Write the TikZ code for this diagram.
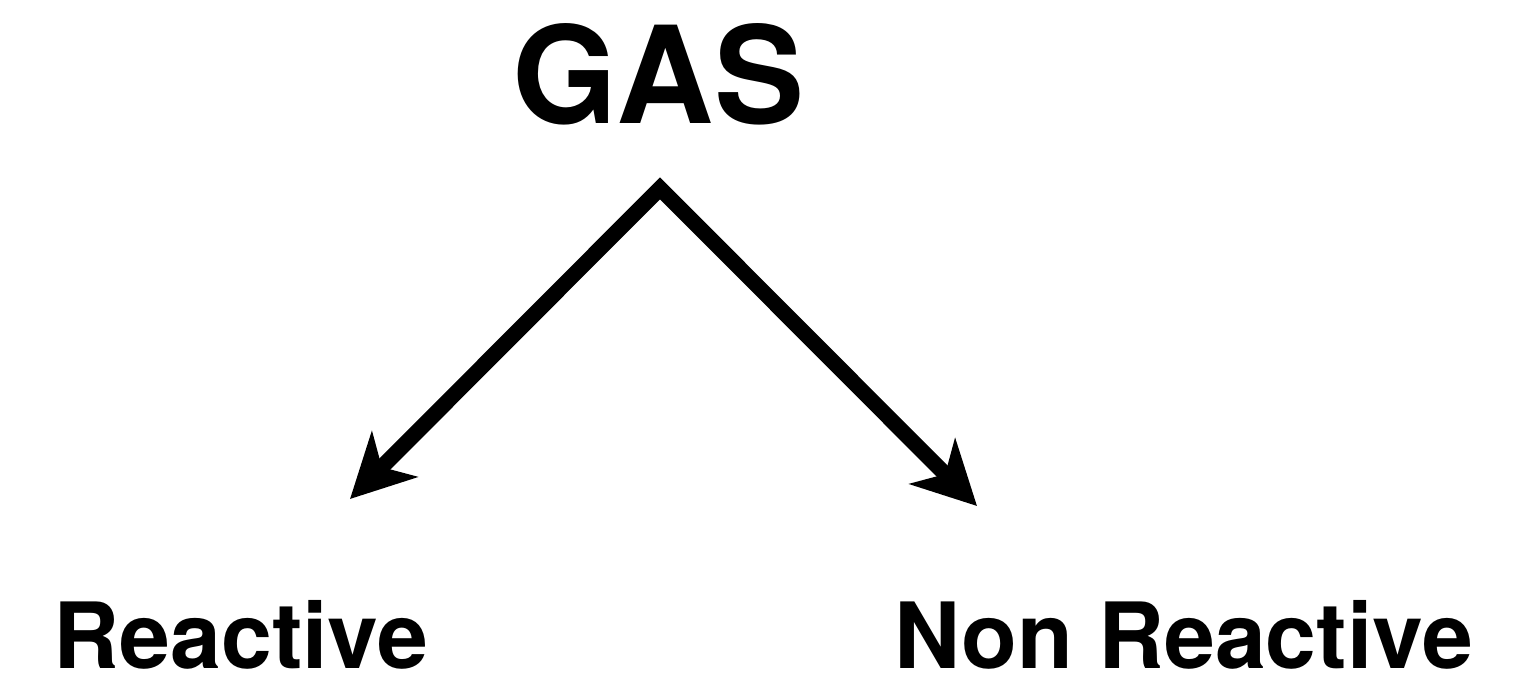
\documentclass[tikz,border=0pt]{standalone}
\usepackage{fontspec}
\setmainfont{TeX Gyre Heros}
\usetikzlibrary{positioning,arrows.meta}

\tikzset{
  title/.style={inner sep=0pt, anchor=base, font=\fontsize{38.4}{44}\selectfont\bfseries},
  leaf/.style={inner sep=0pt, anchor=base, font=\fontsize{26}{30}\selectfont\bfseries},
  split/.style={line width=0.155cm, line join=miter,
    {Stealth[length=0.63cm, width=0.64cm, inset=0.18cm]}-{Stealth[length=0.63cm, width=0.64cm, inset=0.18cm]}},
}

\begin{document}
\begin{tikzpicture}
\useasboundingbox (0,0) rectangle (15.22,6.75);

\node[title] (gas) at (6.585,5.51) {GAS};
\coordinate[below=0.643cm of gas.base, xshift=0.015cm] (fork);
\coordinate[below left=3.107cm and 3.10cm of fork] (tipL);
\coordinate[below right=3.177cm and 3.17cm of fork] (tipR);
\node[leaf] (reactive) at (2.41,0.07) {Reactive};
\node[leaf] (nonreactive) at (11.835,0.07) {Non Reactive};

\draw[split] (tipL) -- (fork) -- (tipR);
\end{tikzpicture}
\end{document}
